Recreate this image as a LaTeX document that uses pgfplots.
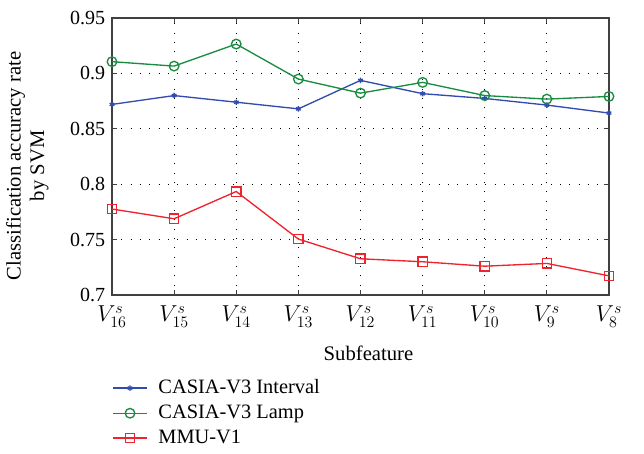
\documentclass[border=0pt]{standalone}
\usepackage{pgfplots}
\pgfplotsset{compat=1.18}
\usepackage{fontspec}
\setmainfont{Liberation Serif}
\definecolor{cblue}{RGB}{50,75,175}
\definecolor{cgreen}{RGB}{25,140,65}
\definecolor{cred}{RGB}{240,35,45}
\begin{document}
\fontsize{15}{18}\selectfont
\begin{tikzpicture}
\begin{axis}[
  scale only axis,
  width=372.75pt, height=207.75pt,
  xmin=0, xmax=8, ymin=0.7, ymax=0.95,
  xtick={0,1,2,3,4,5,6,7,8},
  xticklabels={$V^s_{16}$,$V^s_{15}$,$V^s_{14}$,$V^s_{13}$,$V^s_{12}$,$V^s_{11}$,$V^s_{10}$,$V^s_{9}$,$V^s_{8}$},
  ytick={0.7,0.75,0.8,0.85,0.9,0.95},
  yticklabels={0.7,0.75,0.8,0.85,0.9,0.95},
  tick align=inside,
  major tick length=4pt,
  grid=major,
  major grid style={black, line width=0.8pt, dash pattern=on 0.8pt off 6.2pt},
  axis line style={black!75, line width=1.3pt},
  tick style={black!75, line width=0.9pt},
  yticklabel style={font=\fontsize{15}{18}\selectfont},
  xticklabel style={font=\fontsize{17}{20}\selectfont, yshift=-3pt},
  label style={font=\fontsize{15.5}{19}\selectfont},
  xlabel={Subfeature},
  xlabel style={yshift=-4pt, xshift=6pt},
  ylabel={Classification accuracy rate\\by SVM},
  ylabel style={align=center, yshift=6pt, xshift=-7pt, font=\fontsize{15.5}{17.5}\selectfont},
  legend image code/.code={%
    \draw[mark repeat=2,mark phase=2,#1] plot coordinates {(0cm,0cm) (0.45cm,0cm) (0.9cm,0cm)};},
  legend style={draw=none, fill=none, at={(axis description cs:-0.008,-0.285)}, anchor=north west,
    font=\fontsize{15.3}{18}\selectfont, row sep=2.2pt, column sep=6pt},
  legend cell align=left,
]
\addplot[cblue, line width=1pt, mark=asterisk, mark size=2pt] coordinates {
(0,0.872) (1,0.880) (2,0.874) (3,0.868) (4,0.8937) (5,0.8817) (6,0.8774) (7,0.8714) (8,0.8642)};
\addlegendentry{CASIA-V3 Interval}
\addplot[cgreen, line width=1pt, mark=o, mark size=3.6pt] coordinates {
(0,0.9106) (1,0.9066) (2,0.9265) (3,0.8949) (4,0.8822) (5,0.8919) (6,0.880) (7,0.8768) (8,0.8792)};
\addlegendentry{CASIA-V3 Lamp}
\addplot[cred, line width=1pt, mark=square, mark size=3.5pt] coordinates {
(0,0.7776) (1,0.7688) (2,0.7934) (3,0.7505) (4,0.7327) (5,0.7300) (6,0.726) (7,0.7285) (8,0.7173)};
\addlegendentry{MMU-V1}
\end{axis}
\pgfresetboundingbox
\path (current axis.south west) ++(-84pt,-119.25pt) rectangle ++(483pt,340.5pt);
\end{tikzpicture}
\end{document}
